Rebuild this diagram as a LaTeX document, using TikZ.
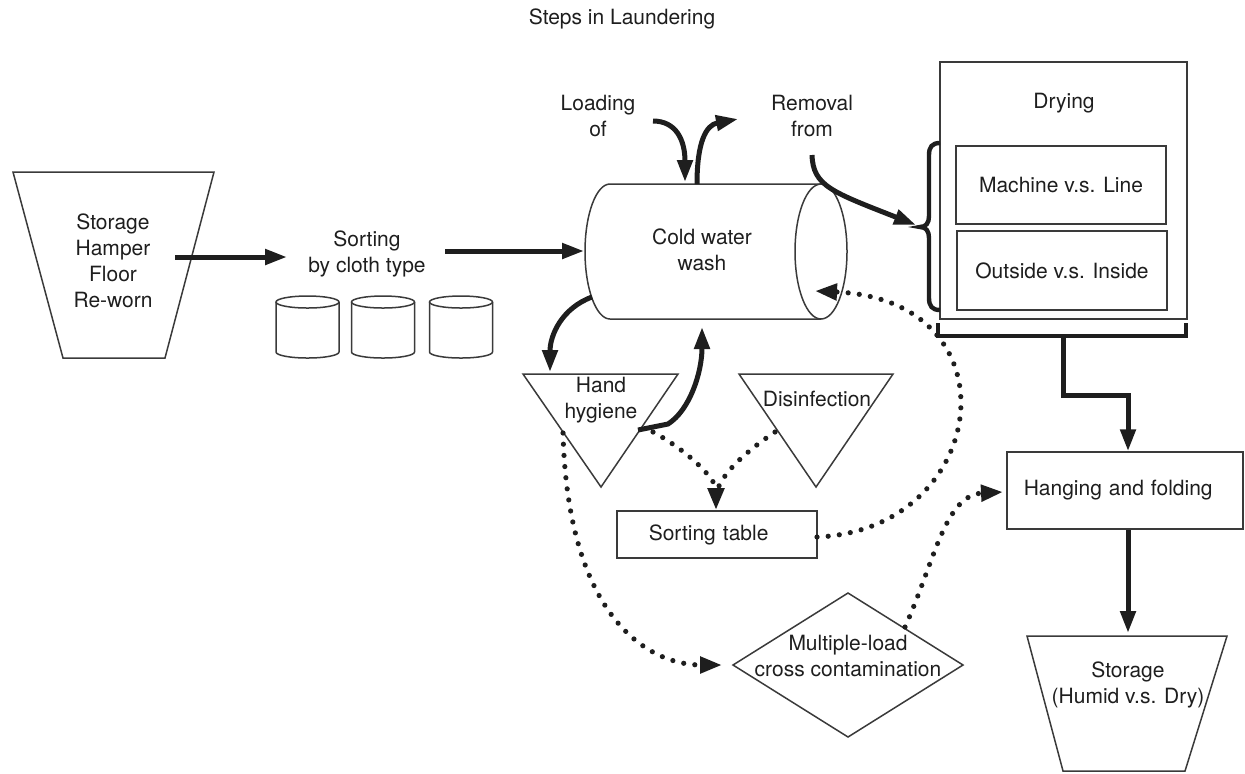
\documentclass[tikz,border=0pt]{standalone}
\usepackage{fontspec}
\setmainfont{TeX Gyre Heros}
\usetikzlibrary{arrows.meta,positioning,calc}
\definecolor{inkgrey}{HTML}{1E1E1E}
\definecolor{edgegrey}{HTML}{3A3A3A}

\tikzset{
  every node/.style={font=\fontsize{10.5}{13}\selectfont, align=center, inner sep=0pt, text=inkgrey},
  outline/.style={line width=0.75pt, edgegrey},
  box/.style={draw=edgegrey, line width=0.75pt, rectangle},
  flow/.style={line width=2.5pt, inkgrey, -{Triangle[length=11pt,width=7.5pt]}},
  spread/.style={line width=2.6pt, inkgrey, dash pattern=on 0pt off 5.6pt, line cap=round,
                 -{Triangle[length=11pt,width=8pt]}},
  bar/.style={line width=2.2pt, inkgrey},
}

\begin{document}
\begin{tikzpicture}[x=0.5pt,y=-0.5pt]
  \useasboundingbox (0,0) rectangle (1245,773);
  \node (title) at (622,19) {Steps in Laundering};

  % bac de depart
  \draw[outline] (13,172) -- (214,172) -- (165,358) -- (63,358) -- cycle;
  \node (hamper) at (113,261) {Storage\\Hamper\\Floor\\Re-worn};

  % tri par type de linge
  \node (sorting) at (367,254) {Sorting\\by cloth type};
  \foreach \cx in {307.5,383,461} {
    \draw[outline] (\cx-31.5,302) -- (\cx-31.5,352)
      arc[start angle=180,end angle=360,x radius=15.75pt,y radius=3pt] -- (\cx+31.5,302);
    \draw[outline] (\cx,302) ellipse[x radius=15.75pt,y radius=3pt];
  }

  % tambour
  \draw[outline] (821,184) -- (610,184)
    arc[start angle=90,end angle=270,x radius=12.5pt,y radius=33.75pt] -- (821,319);
  \draw[outline] (821,251.5) ellipse[x radius=13pt,y radius=33.75pt];
  \node (wash) at (702,250) {Cold water\\wash};
  \node (loading) at (598,115.5) {Loading\\of};
  \node (removal) at (812,115.5) {Removal\\from};

  % sechage
  \node[box, minimum width=123.5pt, minimum height=128.5pt] (drying) at (1063.5,190.5) {};
  \node (dryinglbl) at (1064,103) {Drying};
  \node[box, minimum width=105pt, minimum height=39pt] (machine) at (1061,185) {Machine v.s. Line};
  \node[box, minimum width=105pt, minimum height=39.5pt] (outside) at (1062,270.5) {Outside v.s. Inside};
  \draw[bar] (940,143) .. controls (932,143) and (929,147) .. (929,155) -- (929,216)
    .. controls (929,223) and (926,227) .. (920,227) .. controls (926,227) and (929,231) .. (929,238)
    -- (929,298) .. controls (929,306) and (932,310) .. (940,310);
  \draw[bar] (938,323) -- (938,336) -- (1186,336) -- (1186,323);

  % pliage et rangement
  \node[box, text width=101pt, align=left, inner xsep=8.5pt, minimum height=38.5pt, anchor=west]
    (hanging) at (1006,490.5) {Hanging and folding};
  \draw[outline] (1027,636) -- (1227,636) -- (1185,771) -- (1063,771) -- cycle;
  \node (dry) at (1128,685) {Storage\\(Humid v.s. Dry)};

  % points de contamination
  \draw[outline] (523,374) -- (678,374) -- (601,487) -- cycle;
  \node (hygiene) at (601,400) {Hand\\hygiene};
  \draw[outline] (739,374) -- (893,374) -- (816,487) -- cycle;
  \node (disinf) at (817,399) {Disinfection};
  \node[box, text width=68pt, align=left, inner xsep=16pt, minimum height=23.5pt, anchor=west]
    (table) at (616,534.5) {Sorting table};
  \draw[outline] (733,665) -- (848,593) -- (963,665) -- (848,737) -- cycle;
  \node (cross) at (848,656) {Multiple-load\\cross contamination};

  % points d'accroche
  \coordinate (hamperout) at (175,257);
  \coordinate (sortin) at (287,257);
  \coordinate (sortout) at (445,251);
  \coordinate (drumin) at (584,251);
  \coordinate (drumtop) at (685,182);
  \coordinate (drumtopout) at (697,184);
  \coordinate (drumleft) at (592,297);
  \coordinate (drumbottom) at (702,327);
  \coordinate (drumend) at (815,291);
  \coordinate (bracetip) at (916,225);
  \coordinate (bracebar) at (1063,336);
  \coordinate (hygienetop) at (550,372);
  \coordinate (hygieneright) at (638,430);
  \coordinate (hygienedot) at (653,432);
  \coordinate (hygieneleft) at (563,433);
  \coordinate (disinfleft) at (775,432);
  \coordinate (tabletop) at (716,510);
  \coordinate (tableright) at (817,537);
  \coordinate (crossleft) at (722,665);
  \coordinate (crossedge) at (905,627);
  \coordinate (hangingleft) at (1003,492);

  % flux principal
  \draw[flow] (hamperout) -- (sortin);
  \draw[flow] (sortout) -- (drumin);
  \draw[flow] (653,121) .. controls (676,121) and (685,140) .. (drumtop);
  \draw[flow] (drumtopout) .. controls (697,142) and (706,125) .. (738,119);
  \draw[flow] (812,155) .. controls (813,186) and (832,192) .. (bracetip);
  \draw[flow] (drumleft) .. controls (562,308) and (550,335) .. (hygienetop);
  \draw[flow] (hygieneright) -- (668,424) .. controls (690,410) and (702,372) .. (drumbottom);
  \draw[flow] (bracebar) -- (1063,395) -- (1128,395) -- (hanging.north -| 1128,0);
  \draw[flow] (hanging.south -| 1128,0) -- (1128,633);

  % contaminations
  \draw[spread] (hygienedot) .. controls (690,452) and (716,480) .. (tabletop);
  \draw[spread, -] (disinfleft) .. controls (745,452) and (716,478) .. (716,498);
  \draw[spread] (hygieneleft) .. controls (568,620) and (650,665) .. (crossleft);
  \draw[spread] (tableright) .. controls (990,530) and (1020,300) .. (drumend);
  \draw[spread] (crossedge) .. controls (935,560) and (945,495) .. (hangingleft);
\end{tikzpicture}
\end{document}
